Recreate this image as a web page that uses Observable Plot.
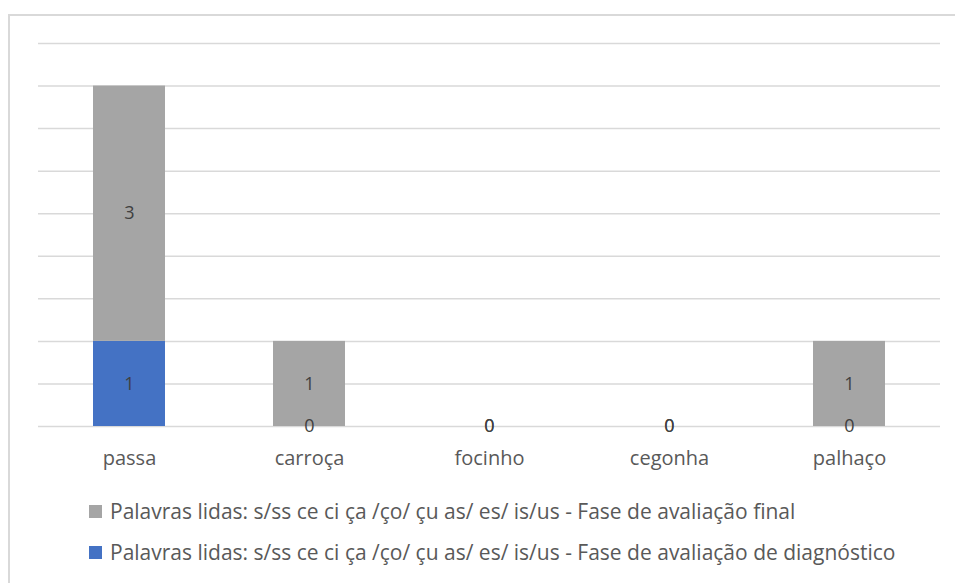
<!DOCTYPE html>
<html>
<head>
<meta charset="utf-8">
<script src="https://cdn.jsdelivr.net/npm/d3@7"></script>
<script src="https://cdn.jsdelivr.net/npm/@observablehq/plot@0.6"></script>
<style>
  html, body { margin: 0; padding: 0; background: #fff; }
  body { width: 955px; height: 583px; position: relative; overflow: hidden; font-family: "Open Sans", "Liberation Sans", Arial, sans-serif; }
  #frame { position: absolute; left: 8px; top: 14px; width: 980px; height: 620px; border: 2px solid #d9d9d9; box-sizing: border-box; }
  #chart { position: absolute; left: 0; top: 0; }
  .legend { position: absolute; left: 89px; font-size: 21px; color: #595959; white-space: nowrap; display: flex; align-items: center; height: 28px; }
  .legend .sw { width: 13px; height: 13px; margin-right: 8px; }
</style>
</head>
<body>
<div id="frame"></div>
<div id="chart"></div>
<div class="legend" id="lg1" style="top:497px"><span class="sw" style="background:#a5a5a5"></span><span></span></div>
<div class="legend" id="lg2" style="top:538px"><span class="sw" style="background:#4472c4"></span><span></span></div>
<script>
const categories = ["passa", "carroça", "focinho", "cegonha", "palhaço"];
const seriesNames = [
  "Palavras lidas: s/ss ce ci ça /ço/ çu as/ es/ is/us - Fase de avaliação de diagnóstico",
  "Palavras lidas: s/ss ce ci ça /ço/ çu as/ es/ is/us - Fase de avaliação final"
];
const diagnostico = [1, 0, 0, 0, 0];
const final = [3, 1, 0, 0, 1];
const gridTicks = [0, 0.5, 1, 1.5, 2, 2.5, 3, 3.5, 4, 4.5];
const colors = ["#4472c4", "#a5a5a5"];

const data = [];
categories.forEach((c, i) => data.push({cat: c, series: seriesNames[0], value: diagnostico[i]}));
categories.forEach((c, i) => data.push({cat: c, series: seriesNames[1], value: final[i]}));

const chart = Plot.plot({
  width: 955,
  height: 470,
  marginLeft: 38,
  marginRight: 15,
  marginTop: 43,
  marginBottom: 44,
  style: {fontFamily: "Open Sans, Liberation Sans, Arial, sans-serif", background: "transparent"},
  x: {domain: categories, paddingInner: 0.6, paddingOuter: 0.3, label: null},
  y: {domain: [0, 4.5], axis: null},
  color: {domain: seriesNames, range: colors},
  marks: [
    Plot.ruleY(gridTicks, {stroke: "#d9d9d9", strokeWidth: 1.5}),
    Plot.barY(data, {x: "cat", y: "value", fill: "series", order: null}),
    Plot.text(data, Plot.stackY({x: "cat", y: "value", z: "series", text: d => String(d.value), fill: "#404040", fontSize: 18, order: null})),
    Plot.axisX({tickSize: 0, tickPadding: 24, fontSize: 20, color: "#595959", label: null})
  ]
});
document.getElementById("chart").appendChild(chart);
document.querySelector("#lg1 span:last-child").textContent = seriesNames[1];
document.querySelector("#lg2 span:last-child").textContent = seriesNames[0];
</script>
</body>
</html>
